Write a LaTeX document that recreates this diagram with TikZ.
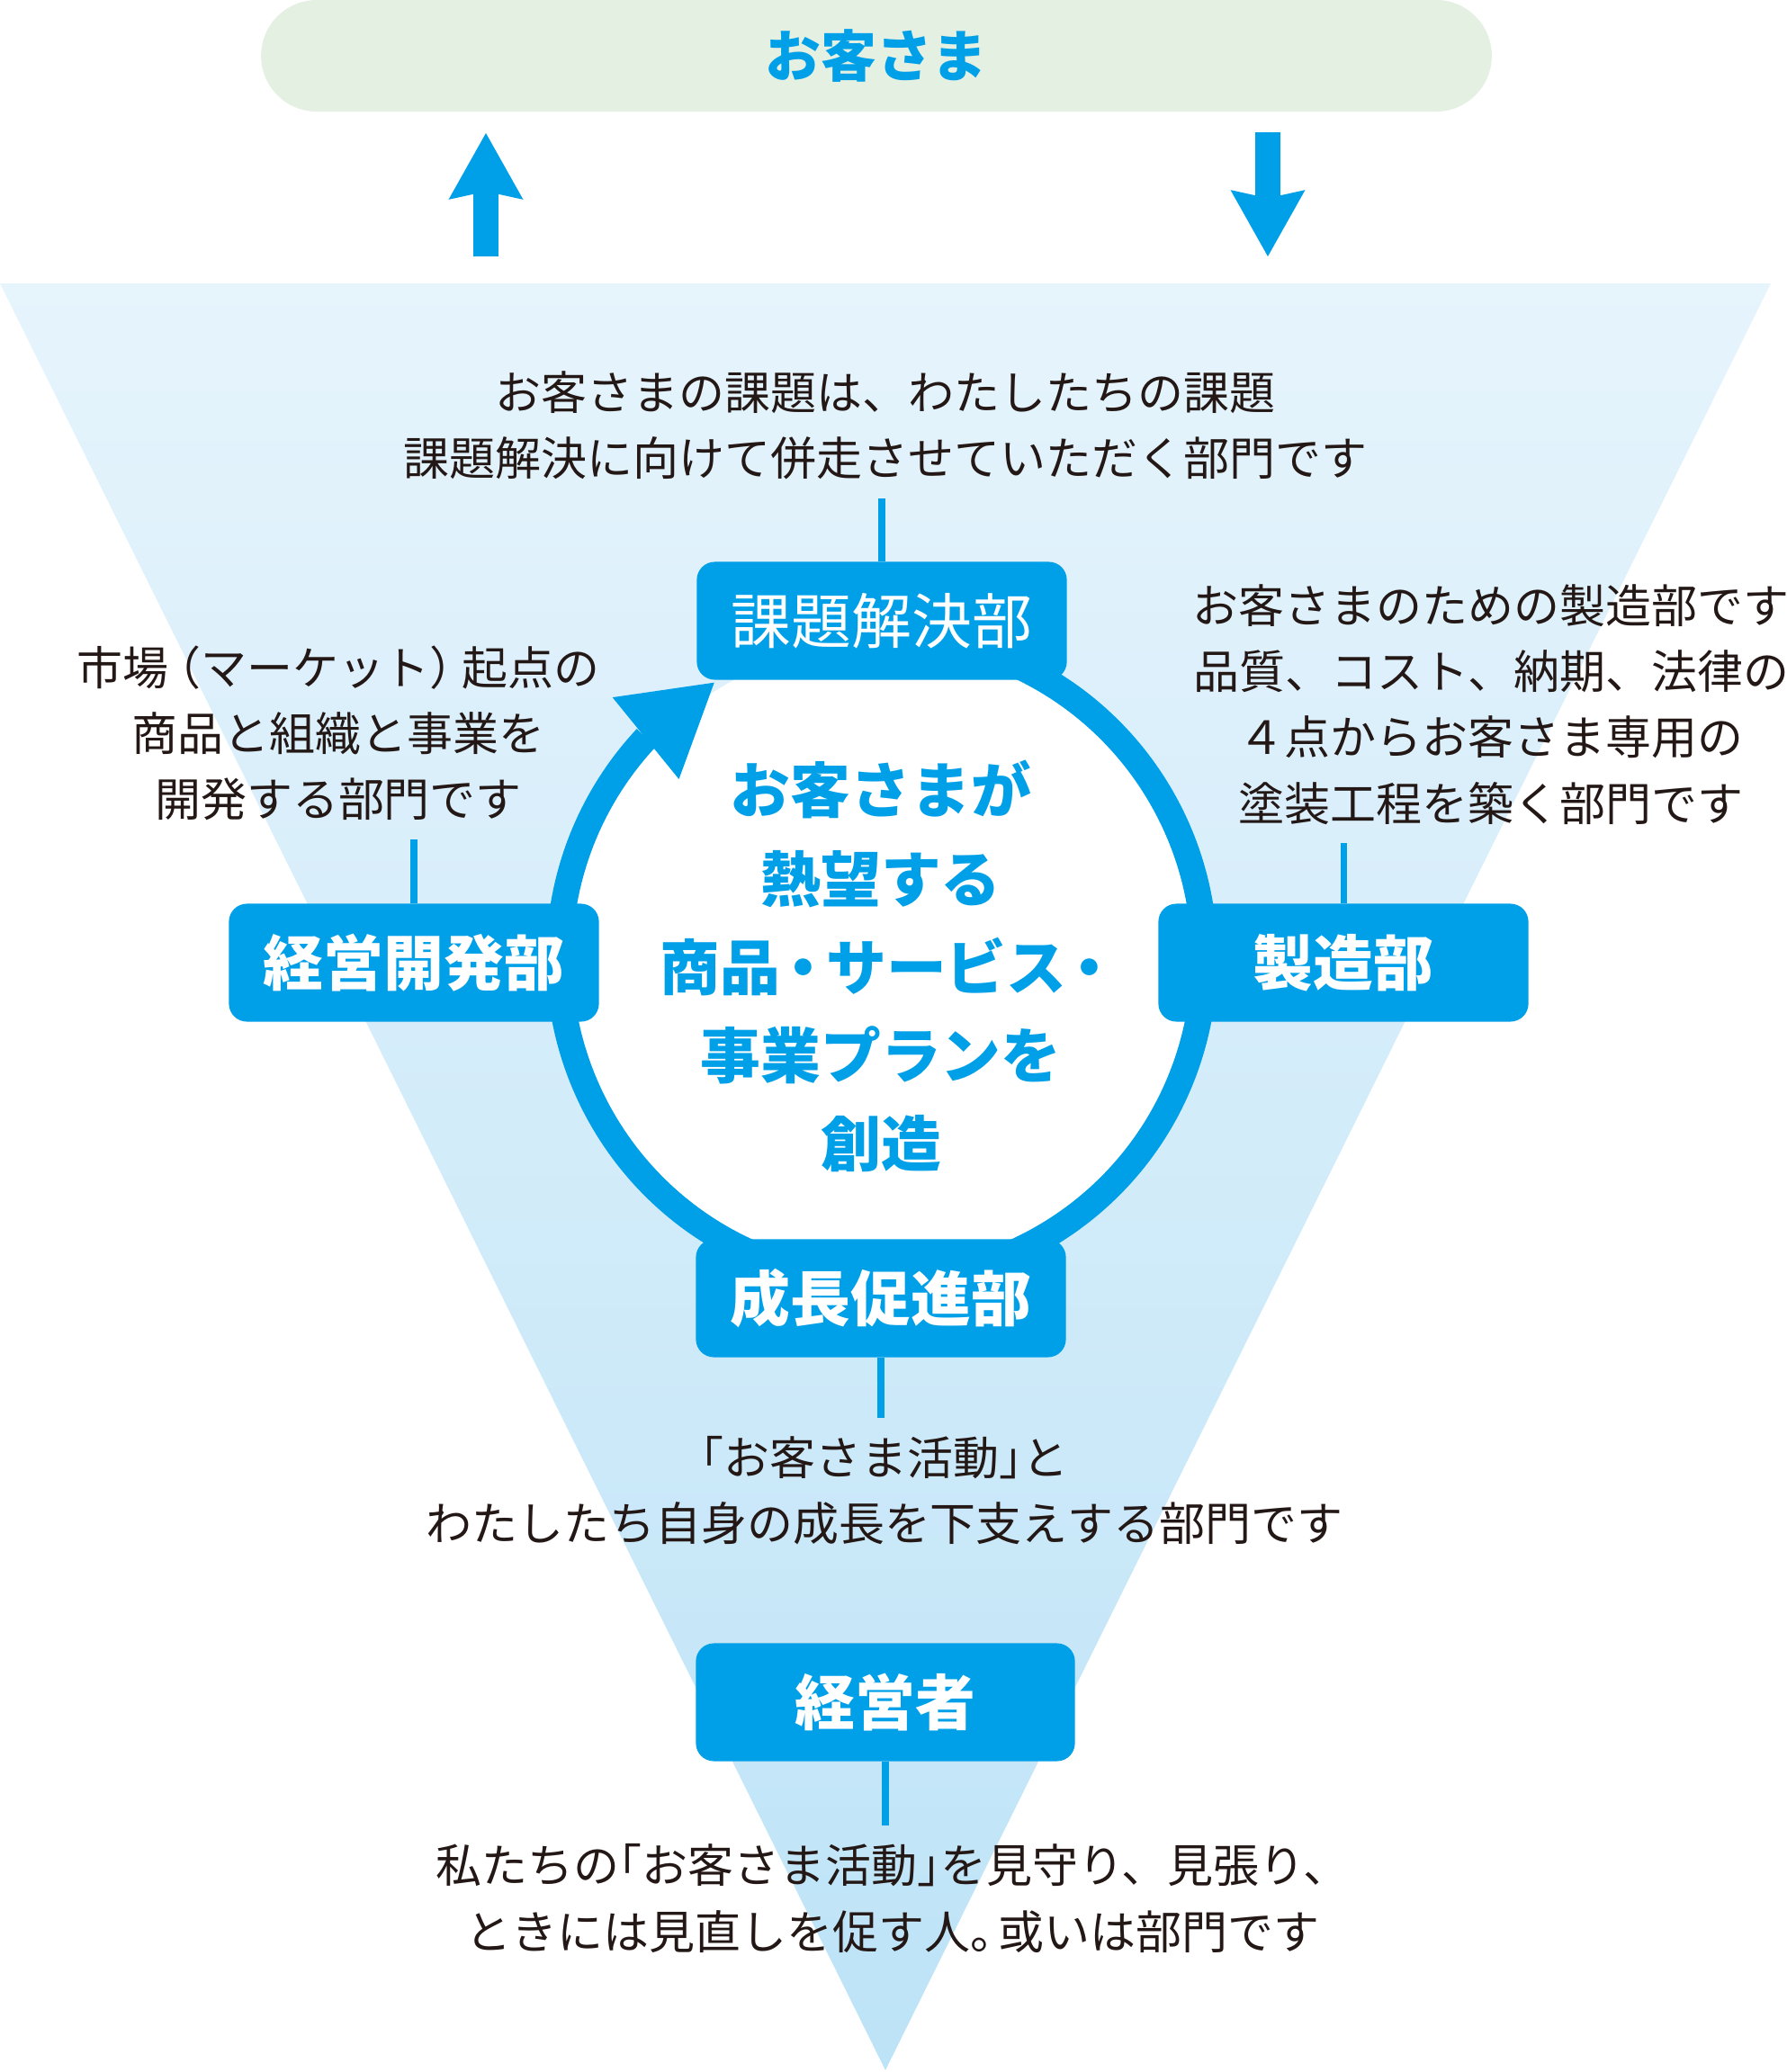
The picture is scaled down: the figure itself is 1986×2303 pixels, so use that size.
\documentclass[tikz,border=0pt]{standalone}
\usepackage{fontspec}
\newfontfamily\jpfont{Noto Sans CJK JP}
\usetikzlibrary{arrows.meta,bending,positioning}
\definecolor{brandblue}{RGB}{0,160,233}
\definecolor{pillgreen}{RGB}{228,240,226}
\definecolor{funneltop}{RGB}{230,244,252}
\definecolor{funnelbottom}{RGB}{189,227,247}
\definecolor{textdark}{RGB}{35,24,21}

\begin{document}
\begin{tikzpicture}[
  x=0.01cm, y=-0.01cm,
  pill/.style={rectangle, rounded corners=0.62cm, fill=pillgreen, text=brandblue, minimum width=13.67cm, minimum height=1.24cm, font=\jpfont\bfseries\fontsize{17.6}{21}\selectfont},
  dept/.style={rectangle, rounded corners=0.2cm, fill=brandblue, text=white, minimum width=4.11cm, minimum height=1.31cm, inner sep=0pt, font=\jpfont\bfseries\fontsize{19}{23}\selectfont},
  desc/.style={align=center, text=textdark, inner xsep=0pt, inner ysep=0.2cm, font=\jpfont\fontsize{14.5}{20.8}\selectfont},
  link/.style={brandblue, line width=2pt},
  flow/.style={brandblue, line width=8pt, -{Stealth[length=21pt, width=23.6pt, inset=2.6pt, line width=0pt]}},
]
  \useasboundingbox (0,0) rectangle (1986,2303);

  \shade[top color=funneltop, bottom color=funnelbottom] (0,315) -- (1968,315) -- (984,2301) -- cycle;

  \node[pill] (kyaku) at (974,62) {お客さま};
  \coordinate (upfoot) at (540,285);
  \coordinate (uphead) at (540,148);
  \coordinate (downfoot) at (1409,147);
  \coordinate (downhead) at (1409,285);
  \draw[flow] (upfoot) -- (uphead);
  \draw[flow] (downfoot) -- (downhead);

  \fill[white] (980,1065) circle[radius=350];
  \draw[brandblue, line width=8.25pt, -{Triangle[length=27.9pt, width=33.3pt, line width=0pt, flex]}]
    (980,1065) ++(-75:358.5) arc[start angle=-75, end angle=238.7, radius=358.5];

  \node[align=center, text=brandblue, font=\jpfont\bfseries\fontsize{19}{27.9}\selectfont] (vision) at (979,1074)
    {お客さまが\\熱望する\\商品\kern-0.12em・\kern-0.12em サービス\kern-0.12em・\kern-0.3em\\事業プランを\\創造};

  \node[dept, font=\jpfont\fontsize{19}{23}\selectfont] (kadai) at (980,690) {課題解決部};
  \node[dept] (keiei) at (460,1070) {経営開発部};
  \node[dept] (seizo) at (1493,1070) {製造部};
  \node[dept] (seicho) at (979,1443) {成長促進部};
  \node[dept, minimum width=4.21cm] (keieisha) at (984,1892) {経営者};

  \node[desc] (kadaitxt) at (984,473) {お客さまの課題は、わたしたちの課題\\課題解決に向けて併走させていただく部門です};
  \node[desc] (keieitxt) at (376,815) {市場\kern-0.3em（マーケット）\kern-0.3em 起点の\\商品と組織と事業を\\開発する部門です};
  \node[desc] (seizotxt) at (1657,783) {お客さまのための製造部です\\品質、コスト、納期、法律の\\４点からお客さま専用の\\塗装工程を築く部門です};
  \node[desc] (seichotxt) at (983,1657) {\kern-0.5em「お客さま活動」\kern-0.5em と\\わたしたち自身の成長を下支えする部門です};
  \node[desc] (keieishatxt) at (992,2110) {私たちの\kern-0.5em「お客さま活動」\kern-0.5em を見守り、見張り、\\ときには見直しを促す人。\kern-0.4em 或いは部門です};

  \draw[link] (kadai.north) -- (kadai.north |- kadaitxt.south);
  \draw[link] (keiei.north) -- (keiei.north |- keieitxt.south);
  \draw[link] (seizo.north) -- (seizo.north |- seizotxt.south);
  \draw[link] (seicho.south) -- (seicho.south |- seichotxt.north);
  \draw[link] (keieisha.south) -- (keieisha.south |- keieishatxt.north);
\end{tikzpicture}
\end{document}
